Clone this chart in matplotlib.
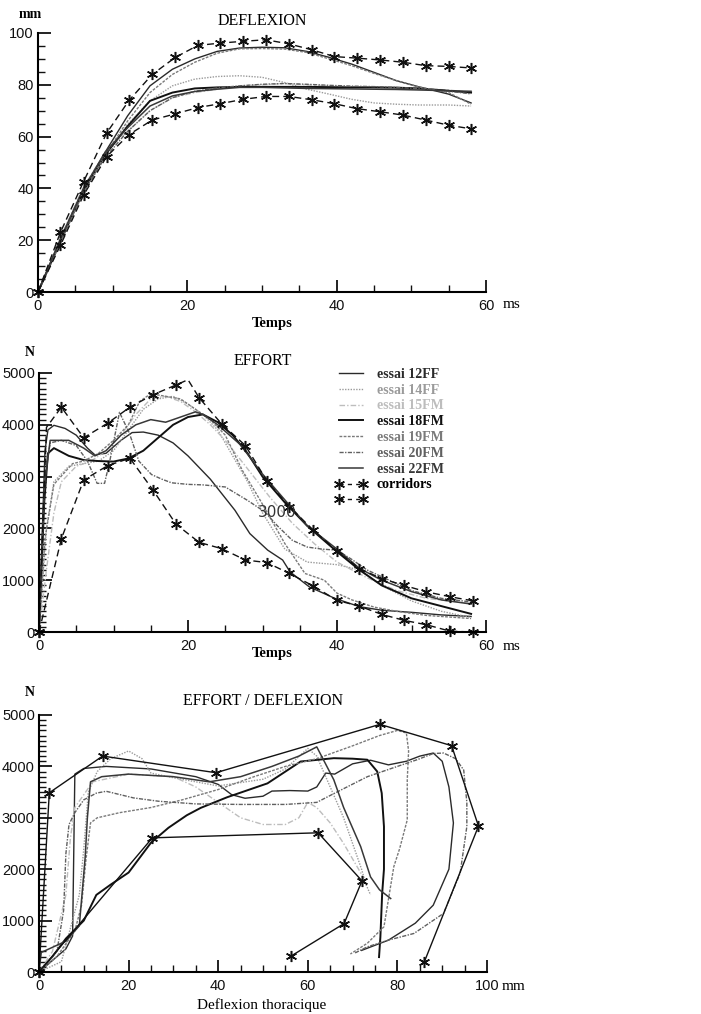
import matplotlib
matplotlib.use("Agg")
import matplotlib.pyplot as plt
from matplotlib.ticker import MultipleLocator
from matplotlib.lines import Line2D

W, H = 701, 1014

TESTS = ["12FF", "14FF", "15FM", "18FM", "19FM", "20FM", "22FM"]

# ---------- DEFLEXION (mm) vs Temps (ms)
t_defl = [0, 3, 6, 9, 12, 15, 18, 21, 24, 27, 30, 33, 36, 39, 42, 45, 48, 51, 55, 58]
defl_12FF = [0, 20, 39, 54, 68, 79.6, 86, 90, 92.9, 94.2, 94.5, 94.3, 92.9, 90.6, 88, 84.8, 81.6, 79.2, 76.4, 73]
defl_14FF = [0, 20, 39, 53, 64.7, 73.8, 79.6, 82.2, 83.2, 83.5, 82.9, 80.9, 78.3, 76.4, 74.4, 73, 72.5, 72.2, 72.2, 71.8]
defl_15FM = [0, 21, 40, 54, 62, 70, 75, 77, 78.3, 79.6, 80, 80.5, 80, 79.6, 79.2, 79, 78.8, 78.5, 78, 77]
defl_18FM = [0, 19.5, 38.5, 53, 64, 73.8, 77, 78.6, 79, 79.2, 79.2, 79.2, 79.2, 79.1, 79, 79, 78.9, 78.6, 77.7, 77]
defl_19FM = [0, 19, 38, 53, 66, 77, 84, 88.7, 92.2, 93.9, 94, 93.8, 92.5, 90, 87.4, 84.4, 81.6, 79.2, 77, 72.5]
defl_20FM = [0, 20, 38, 52, 62, 70, 75, 77.5, 78.8, 79.6, 80.2, 80.5, 80.2, 79.8, 79.5, 79.3, 79, 78.5, 77.5, 76.5]
defl_22FM = [0, 20.5, 39.5, 54, 63.4, 71.8, 75.7, 77.4, 78.3, 79, 79, 78.8, 78.6, 78.5, 78.4, 78.3, 78.2, 78, 77.7, 77.5]

t_corr_defl = [0, 3, 6.1, 9.2, 12.2, 15.3, 18.4, 21.4, 24.4, 27.5, 30.5, 33.6, 36.7, 39.7, 42.7, 45.8, 48.9, 51.9, 55, 58]
defl_corr_up = [0, 23, 42.6, 61.4, 74, 84, 90.6, 95.2, 96.1, 96.8, 97.4, 95.8, 93.5, 90.9, 90.3, 89.6, 88.7, 87.4, 87.1, 86.5]
defl_corr_low = [0, 18, 37.4, 52.3, 60.8, 66.4, 68.8, 71.2, 72.7, 74.4, 75.5, 75.5, 74.2, 72.7, 70.8, 69.6, 68.3, 66.4, 64.4, 63]

# ---------- EFFORT (N) vs Temps (ms)
t_eff_12FF = [0, 0.8, 1.2, 2, 3.5, 5, 6.5, 7.5, 9, 11, 12.5, 14, 16, 18, 20, 23, 26.3, 28.3, 30.7, 32.7, 33.7, 36.3, 39.7, 43, 46, 50, 54, 58]
eff_12FF = [0, 3500, 3900, 3990, 3930, 3800, 3550, 3420, 3450, 3700, 3850, 3860, 3800, 3650, 3400, 2950, 2350, 1900, 1580, 1390, 1160, 870, 650, 490, 420, 380, 330, 300]
t_eff_14FF = [0, 1, 2, 4, 6, 8, 10, 12, 14, 16, 18, 20, 22, 24, 26, 28, 30, 33, 36, 40, 43, 46, 50, 54, 58]
eff_14FF = [0, 2000, 2900, 3200, 3250, 3300, 3500, 3900, 4300, 4500, 4550, 4400, 4200, 3900, 3400, 2900, 2300, 1600, 1350, 1300, 1200, 900, 600, 400, 280]
t_eff_15FM = [0, 1, 2, 3, 5, 7, 9, 11, 13, 15, 17, 19, 21, 23, 25, 28, 31, 34, 37, 40, 44, 48, 52, 58]
eff_15FM = [0, 1200, 2300, 2900, 3200, 3300, 3500, 3800, 4200, 4500, 4550, 4450, 4250, 4000, 3700, 3150, 2600, 2100, 1700, 1350, 1050, 800, 650, 550]
t_eff_18FM = [0, 0.7, 1.2, 2, 4, 6, 8, 10, 12, 14, 16, 18, 20, 22, 24, 26, 28, 30, 33, 36, 40, 43, 46, 50, 54, 58]
eff_18FM = [0, 2500, 3450, 3550, 3400, 3320, 3300, 3290, 3350, 3500, 3750, 4000, 4150, 4200, 4050, 3800, 3450, 3000, 2500, 2050, 1550, 1200, 900, 650, 500, 350]
t_eff_19FM = [0, 0.8, 2, 4.5, 6, 8, 10, 12, 13.5, 15, 17, 19, 21, 23, 25, 27.3, 29.7, 33, 35.7, 38.3, 40, 42, 45, 48, 52, 58]
eff_19FM = [0, 1800, 2850, 3250, 3300, 3450, 3700, 4000, 4450, 4600, 4550, 4500, 4300, 4100, 3800, 3118, 2541, 1707, 1130, 1000, 750, 620, 480, 400, 320, 260]
t_eff_20FM = [0, 0.8, 1.5, 3, 5, 6.5, 7.8, 8.8, 9.5, 10.8, 12.1, 13.4, 15.1, 16.5, 17.8, 20, 22, 25, 28, 30.3, 32, 34, 36, 38, 40, 42, 44, 47, 50, 54, 58]
eff_20FM = [0, 3000, 3650, 3700, 3600, 3300, 2870, 2870, 3300, 4240, 3850, 3300, 3040, 2950, 2880, 2850, 2840, 2800, 2540, 2320, 2050, 1770, 1640, 1600, 1580, 1400, 1200, 1000, 800, 650, 580]
t_eff_22FM = [0, 0.7, 1.5, 4, 6, 7.5, 9, 11, 13, 15, 17, 19, 21, 22, 24, 27, 30, 33, 36, 40, 43, 46, 50, 54, 58]
eff_22FM = [0, 2800, 3700, 3700, 3550, 3400, 3500, 3800, 4000, 4100, 4050, 4150, 4250, 4200, 4000, 3620, 3050, 2550, 2050, 1600, 1230, 1000, 780, 620, 540]

t_corr_eff_up = [0, 1, 3, 6, 9.2, 12.2, 15.3, 18.4, 20, 21.5, 24.5, 27.7, 30.6, 33.6, 36.8, 40, 43, 46, 49, 52, 55.2, 58.3]
eff_corr_up = [0, 3950, 4340, 3750, 4030, 4340, 4580, 4770, 4870, 4520, 4020, 3600, 2915, 2420, 1970, 1560, 1225, 1030, 900, 775, 680, 600]
t_corr_eff_low = [0, 3, 6, 9.2, 12.2, 15.3, 18.4, 21.5, 24.5, 27.7, 30.6, 33.6, 36.8, 40, 43, 46, 49, 52, 55.2, 58.3]
eff_corr_low = [0, 1800, 2935, 3210, 3355, 2740, 2080, 1730, 1610, 1390, 1340, 1130, 890, 610, 500, 340, 225, 140, 15, 0]

# ---------- EFFORT (N) vs Deflexion thoracique (mm)
x3_12FF = [0, 6, 7.5, 8, 10, 15, 25, 35, 40, 43, 46, 50, 52, 56, 60, 62, 64, 66, 70, 74, 78, 82, 85, 88, 90, 91.5, 92.5, 91.5, 88, 84, 78, 72]
f3_12FF = [0, 450, 700, 3850, 3960, 4000, 3950, 3800, 3650, 3450, 3380, 3420, 3520, 3530, 3520, 3600, 3870, 3850, 4050, 4120, 4030, 4100, 4200, 4260, 4100, 3600, 2900, 2000, 1300, 950, 620, 420]
x3_14FF = [0, 5, 9, 10, 11, 13, 16, 20, 23, 25, 30, 40, 50, 55, 60, 62, 64, 66, 68, 70, 72, 73, 74]
f3_14FF = [0, 200, 1500, 2400, 3500, 3900, 4150, 4300, 4150, 3870, 3780, 3620, 3750, 3950, 4350, 4200, 3800, 3400, 3000, 2500, 2000, 1700, 1500]
x3_15FM = [0, 3, 6, 7, 8, 12, 20, 30, 35, 40, 45, 50, 55, 58, 60, 62, 65, 68, 70, 72, 73]
f3_15FM = [0, 400, 1500, 2600, 3200, 3700, 3850, 3800, 3600, 3300, 3000, 2870, 2870, 3000, 3300, 3200, 2900, 2500, 2200, 1900, 1700]
x3_18FM = [0, 3, 6, 10, 12.8, 16, 20, 25, 28.9, 33, 36.1, 42, 51, 58.4, 65.8, 70, 73.3, 75.5, 76.5, 77, 77, 76.6, 76.2, 75.9]
f3_18FM = [0, 300, 650, 1000, 1500, 1700, 1935, 2516, 2806, 3050, 3193, 3400, 3670, 4095, 4160, 4150, 4130, 3900, 3480, 2830, 2000, 1530, 680, 290]
x3_19FM = [0, 4, 8, 9.5, 10.5, 11.5, 13, 18, 25, 32, 40, 48, 55, 62, 70, 76, 80, 82, 82.5, 82.2, 82.2, 80.5, 79.2, 77, 73.3, 69.5]
f3_19FM = [0, 300, 800, 1300, 2200, 2900, 3000, 3100, 3200, 3350, 3550, 3800, 4000, 4150, 4400, 4600, 4700, 4650, 4300, 3740, 2960, 2400, 2050, 880, 560, 350]
x3_20FM = [0, 4, 5.5, 6, 6.7, 8, 10, 12.8, 15, 21.1, 26.7, 35, 45, 55, 62, 65.8, 73.3, 80, 84.4, 88, 90.3, 93, 94.8, 95.5, 95.5, 94, 90.3, 83.7, 78, 73.3, 70.3]
f3_20FM = [0, 400, 1200, 2300, 2870, 3100, 3350, 3480, 3516, 3387, 3322, 3270, 3260, 3260, 3300, 3470, 3800, 4000, 4130, 4250, 4260, 4150, 3930, 3300, 2830, 1920, 1140, 750, 620, 490, 360]
x3_22FM = [0, 0.5, 6, 9, 10.3, 10.8, 11.5, 14, 20, 30, 38, 45, 52, 58, 62, 65.8, 68, 71.8, 74, 76, 78.5]
f3_22FM = [0, 380, 600, 900, 2225, 3000, 3700, 3800, 3850, 3800, 3700, 3800, 4000, 4200, 4380, 3740, 3200, 2440, 1850, 1600, 1430]

x3_corr_up = [0, 2.3, 14.2, 39.5, 76.1, 92.1, 98.1, 86.0]
f3_corr_up = [0, 3487, 4201, 3877, 4818, 4403, 2838, 195]
x3_corr_low = [0, 25.3, 62.3, 72.1, 68.1, 56.3]
f3_corr_low = [0, 2610, 2708, 1773, 942, 312]

STYLE = {
    "12FF": dict(color="#2a2a2a", ls="-", lw=1.0),
    "14FF": dict(color="#9a9a9a", ls=(0, (1, 1)), lw=1.0),
    "15FM": dict(color="#bdbdbd", ls=(0, (4, 1.5, 1, 1.5)), lw=1.0),
    "18FM": dict(color="#111111", ls="-", lw=1.4),
    "19FM": dict(color="#7a7a7a", ls=(0, (2, 1)), lw=1.0),
    "20FM": dict(color="#606060", ls=(0, (3, 1, 1, 1)), lw=1.0),
    "22FM": dict(color="#383838", ls="-", lw=1.1),
}
STAR = (6, 2, 0)
CORR = dict(color="#111111", marker=STAR, ms=8, mew=1.1, lw=1.0)

SERIF = ["Liberation Serif", "DejaVu Serif"]
SANS = ["Liberation Sans", "DejaVu Sans"]


def fig_axes(fig, left, right, top, bottom):
    # pixel box -> figure fraction
    return fig.add_axes([left / W, 1 - bottom / H, (right - left) / W, (bottom - top) / H])


def ftext(fig, x, y, s, **kw):
    fig.text(x / W, 1 - y / H, s, **kw)


def style_axes(ax, xmax, xmajor, xminor, ymax, ymajor, yminor):
    for side in ["top", "right"]:
        ax.spines[side].set_visible(False)
    for side in ["left", "bottom"]:
        ax.spines[side].set_linewidth(1.5)
    ax.set_xlim(0, xmax)
    ax.set_ylim(0, ymax)
    ax.xaxis.set_major_locator(MultipleLocator(xmajor))
    ax.xaxis.set_minor_locator(MultipleLocator(xminor))
    ax.yaxis.set_major_locator(MultipleLocator(ymajor))
    ax.yaxis.set_minor_locator(MultipleLocator(yminor))
    ax.tick_params(which="major", direction="in", length=9, width=1.3, colors="#111111")
    ax.tick_params(which="minor", direction="in", length=5, width=1.0, colors="#111111")
    ax.tick_params(axis="x", which="major", pad=5)
    ax.tick_params(axis="y", which="major", pad=3)
    for lab in ax.get_xticklabels() + ax.get_yticklabels():
        lab.set_family(SANS)
        lab.set_fontweight("medium")
        lab.set_fontsize(10.5)
    ax.patch.set_alpha(0)
    for line in ax.get_lines():
        line.set_clip_on(False)


def plot_deflexion(fig):
    ax = fig_axes(fig, 38, 486, 33, 292)
    series = [defl_12FF, defl_14FF, defl_15FM, defl_18FM, defl_19FM, defl_20FM, defl_22FM]
    for name, y in zip(TESTS, series):
        ax.plot(t_defl, y, **STYLE[name])
    ax.plot(t_corr_defl, defl_corr_up, ls=(0, (5, 3)), **CORR)
    ax.plot(t_corr_defl, defl_corr_low, ls=(0, (5, 3)), **CORR)
    style_axes(ax, 60, 20, 5, 100, 20, 5)
    ax.set_xticks([0, 20, 40, 60])
    ftext(fig, 262, 21, "DEFLEXION", ha="center", va="center", family=SERIF, fontsize=11.5)
    ftext(fig, 30, 14, "mm", ha="center", va="center", family=SERIF, fontsize=10, fontweight="bold")
    ftext(fig, 512, 305, "ms", ha="center", va="center", family=SERIF, fontsize=11)
    ftext(fig, 272, 323, "Temps", ha="center", va="center", family=SERIF, fontsize=10.5, fontweight="bold")


def plot_effort(fig):
    ax = fig_axes(fig, 39, 486, 373, 632)
    times = [t_eff_12FF, t_eff_14FF, t_eff_15FM, t_eff_18FM, t_eff_19FM, t_eff_20FM, t_eff_22FM]
    series = [eff_12FF, eff_14FF, eff_15FM, eff_18FM, eff_19FM, eff_20FM, eff_22FM]
    handles = []
    for name, t, y in zip(TESTS, times, series):
        line, = ax.plot(t, y, **STYLE[name])
        handles.append(line)
    skip = [1, 8]
    ax.plot(t_corr_eff_up, eff_corr_up, ls=(0, (5, 3)),
            markevery=[i for i in range(len(t_corr_eff_up)) if i not in skip], **CORR)
    ax.plot(t_corr_eff_low, eff_corr_low, ls=(0, (5, 3)), **CORR)
    ax.text(32, 2300, "3000", ha="center", va="center", fontsize=11, color="#333333",
            family=["DejaVu Sans"])
    style_axes(ax, 60, 20, 5, 5000, 1000, 100)
    ax.set_xticks([0, 20, 40, 60])

    corr_handle = Line2D([], [], ls=(0, (3, 3)), **CORR)
    labels = ["essai " + n for n in TESTS] + ["corridors", " "]
    leg = fig.legend(handles + [corr_handle, corr_handle], labels, loc="upper left",
                     bbox_to_anchor=(328 / W, 1 - 361 / H), frameon=False,
                     prop=dict(family=SERIF, weight="bold", size=10),
                     handlelength=2.3, handletextpad=0.7, labelspacing=0.2,
                     borderpad=0, numpoints=2)
    for txt, name in zip(leg.get_texts(), TESTS):
        txt.set_color(STYLE[name]["color"])

    ftext(fig, 263, 361, "EFFORT", ha="center", va="center", family=SERIF, fontsize=11.5)
    ftext(fig, 30, 353, "N", ha="center", va="center", family=SERIF, fontsize=10, fontweight="bold")
    ftext(fig, 512, 646, "ms", ha="center", va="center", family=SERIF, fontsize=11)
    ftext(fig, 272, 654, "Temps", ha="center", va="center", family=SERIF, fontsize=10.5, fontweight="bold")


def plot_effort_deflexion(fig):
    ax = fig_axes(fig, 39, 487, 715, 972)
    xs = [x3_12FF, x3_14FF, x3_15FM, x3_18FM, x3_19FM, x3_20FM, x3_22FM]
    ys = [f3_12FF, f3_14FF, f3_15FM, f3_18FM, f3_19FM, f3_20FM, f3_22FM]
    for name, x, y in zip(TESTS, xs, ys):
        ax.plot(x, y, **STYLE[name])
    ax.plot(x3_corr_up, f3_corr_up, ls="-", **CORR)
    ax.plot(x3_corr_low, f3_corr_low, ls="-", **CORR)
    style_axes(ax, 100, 20, 5, 5000, 1000, 100)
    ax.set_xticks([0, 20, 40, 60, 80, 100])

    ftext(fig, 263, 701, "EFFORT / DEFLEXION", ha="center", va="center", family=SERIF, fontsize=11.5)
    ftext(fig, 30, 692, "N", ha="center", va="center", family=SERIF, fontsize=10, fontweight="bold")
    ftext(fig, 514, 987, "mm", ha="center", va="center", family=SERIF, fontsize=11)
    ftext(fig, 262, 1005, "Deflexion thoracique", ha="center", va="center", family=SERIF, fontsize=11)


def main():
    fig = plt.figure(figsize=(W / 100, H / 100), dpi=100)
    fig.patch.set_facecolor("white")
    plot_deflexion(fig)
    plot_effort(fig)
    plot_effort_deflexion(fig)
    fig.savefig("out.png", dpi=100, facecolor="white")


if __name__ == "__main__":
    main()
